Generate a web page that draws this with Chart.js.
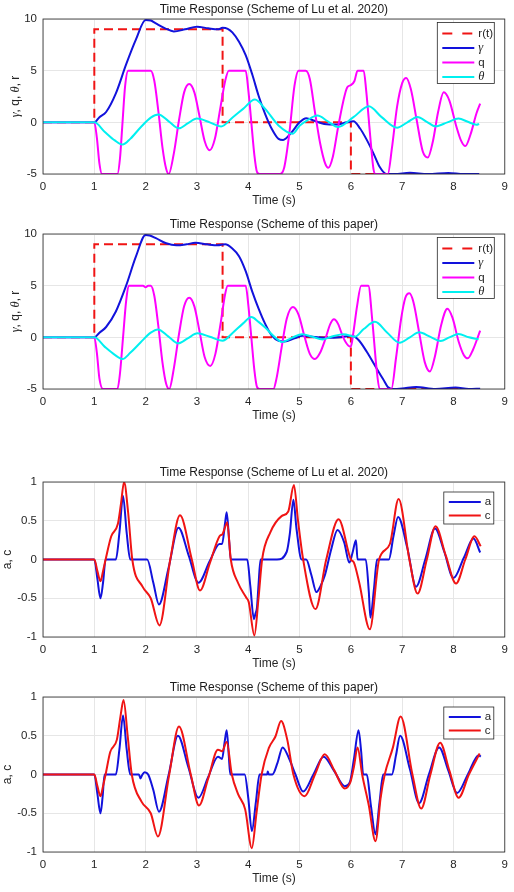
<!DOCTYPE html>
<html>
<head>
<meta charset="utf-8">
<script src="https://cdn.jsdelivr.net/npm/chart.js@4.4.1/dist/chart.umd.min.js"></script>
<style>
  body { margin: 0; background: #fff; }
  #wrap { position: relative; width: 514px; height: 892px; overflow: hidden; background: #fff; }
  canvas { position: absolute; left: 0; }
</style>
</head>
<body>
<div id="wrap">
  <canvas id="c1" width="514" height="211" style="top:-1px"></canvas>
  <canvas id="c2" width="514" height="211" style="top:214px"></canvas>
  <canvas id="c3" width="514" height="211" style="top:462px"></canvas>
  <canvas id="c4" width="514" height="211" style="top:677px"></canvas>
</div>
<script>
// ticks
const xTicks = [0, 1, 2, 3, 4, 5, 6, 7, 8, 9];
const yTicksTop = [-5, 0, 5, 10];
const yTicksBottom = [-1, -0.5, 0, 0.5, 1];

// reference r(t), same in both upper panels
const refTime = [0, 1, 1, 3.5, 3.5, 6, 6, 8.5];
const refValue = [0, 0, 9, 9, 0, 0, -5, -5];

// panel 1 : Lu et al. 2020
const p1GammaT = [0, 1.0, 1.1, 1.23, 1.42, 1.62, 1.81, 2.0, 2.1, 2.19, 2.38, 2.55, 2.77, 3.0, 3.22, 3.41, 3.5, 3.6, 3.69, 3.82,
  3.95, 4.08, 4.2, 4.33, 4.46, 4.59, 4.68, 4.84, 5.0, 5.13, 5.29, 5.48, 5.73, 5.92, 6.05, 6.18, 6.31, 6.44, 6.56, 6.69,
  6.85, 7.15, 7.5, 7.9, 8.2, 8.5];
const p1GammaV = [0, 0, 0.5, 1.0, 2.8, 5.6, 8.0, 9.9, 9.85, 9.6, 9.1, 8.8, 9.0, 9.25, 9.1, 9.0, 9.15, 9.05, 8.7, 7.8,
  6.5, 4.6, 2.6, 0.8, -0.65, -1.6, -1.7, -1.0, 0, 0.4, 0.15, -0.15, -0.2, 0, 0.1, -0.6, -1.7, -3.0, -4.3, -5.0,
  -5.0, -4.88, -5.0, -4.9, -5.0, -5.0];
const p1QT = [0, 1.0, 1.05, 1.1, 1.15, 1.45, 1.5, 1.55, 1.6, 1.66, 2.1, 2.17, 2.25, 2.33, 2.4, 2.45, 2.55, 2.65, 2.75, 2.85,
  2.95, 3.05, 3.15, 3.25, 3.35, 3.45, 3.55, 3.62, 3.95, 4.0, 4.06, 4.12, 4.17, 4.22, 4.62, 4.7, 4.8, 4.9, 4.98, 5.12,
  5.2, 5.3, 5.4, 5.5, 5.56, 5.65, 5.75, 5.85, 5.93, 6.0, 6.07, 6.13, 6.25, 6.3, 6.38, 6.44, 6.48, 6.72, 6.8, 6.9,
  7.0, 7.08, 7.17, 7.28, 7.4, 7.5, 7.6, 7.7, 7.81, 7.92, 8.05, 8.15, 8.23, 8.33, 8.45, 8.52];
const p1QV = [0, 0, -1.5, -4, -5, -5, -3.5, 0, 3.5, 5, 5, 4, 1, -2.5, -4.5, -5, -3, 0.2, 2.9, 3.7,
  2.9, 0.6, -1.8, -2.7, -1.6, 1.2, 4.0, 5, 5, 3.2, 0, -3.2, -4.8, -5, -5, -4.4, -1.1, 3.5, 5, 5,
  4.2, 1.0, -2.0, -4.0, -4.4, -3.3, -0.5, 2.0, 3.4, 3.6, 4.0, 5, 5, 3.0, -1.5, -4.5, -5, -5, -2.5, 1.5,
  3.8, 4.3, 3.2, 0.3, -2.8, -3.4, -1.8, 1.0, 2.9, 2.1, -0.3, -1.8, -2.3, -1.2, 0.9, 1.8];
const p1ThetaT = [0, 1.0, 1.2, 1.4, 1.55, 1.7, 1.9, 2.1, 2.25, 2.45, 2.65, 2.82, 3.0, 3.25, 3.47, 3.7, 3.9, 4.13, 4.33, 4.59,
  4.87, 5.0, 5.15, 5.35, 5.55, 5.75, 6.05, 6.35, 6.6, 6.9, 7.1, 7.3, 7.48, 7.65, 7.88, 8.1, 8.28, 8.45, 8.5];
const p1ThetaV = [0, 0, -0.9, -1.75, -2.15, -1.6, -0.5, 0.45, 0.75, 0.1, -0.58, -0.1, 0.36, 0.0, -0.4, 0.5, 1.3, 2.2, 1.3, -0.3,
  -1.1, -0.33, 0.2, 0.65, 0.1, -0.45, 0.5, 1.55, 0.5, -0.52, 0.0, 0.52, 0.05, -0.39, 0.0, 0.36, 0.05, -0.23, -0.15];

// panel 2 : this paper
const p2GammaT = [0, 1.0, 1.1, 1.23, 1.42, 1.62, 1.81, 2.0, 2.08, 2.2, 2.4, 2.6, 2.8, 2.97, 3.2, 3.4, 3.55, 3.69, 3.82, 3.95,
  4.08, 4.2, 4.33, 4.46, 4.59, 4.71, 4.9, 5.06, 5.22, 5.48, 5.79, 6.02, 6.15, 6.31, 6.5, 6.63, 6.72, 6.82, 7.0, 7.27,
  7.65, 8.04, 8.3, 8.52];
const p2GammaV = [0, 0, 0.45, 1.0, 2.5, 5.0, 7.8, 9.9, 9.85, 9.6, 9.1, 8.9, 9.0, 9.15, 9.0, 8.9, 9.0, 8.6, 7.85, 6.4,
  4.4, 2.8, 1.3, 0.16, -0.33, -0.4, -0.1, 0.16, 0.07, -0.05, 0.0, 0.16, -0.26, -1.4, -3.0, -4.06, -4.8, -5.0, -4.95, -4.8,
  -5.0, -4.85, -5.0, -4.97];
const p2QT = [0, 1.0, 1.05, 1.1, 1.17, 1.45, 1.5, 1.56, 1.62, 1.67, 1.95, 2.0, 2.05, 2.1, 2.17, 2.25, 2.33, 2.4, 2.46, 2.55,
  2.65, 2.75, 2.85, 2.95, 3.05, 3.15, 3.26, 3.36, 3.46, 3.55, 3.6, 3.95, 4.0, 4.06, 4.12, 4.17, 4.22, 4.49, 4.55, 4.65,
  4.75, 4.87, 4.98, 5.1, 5.2, 5.3, 5.4, 5.5, 5.6, 5.67, 5.75, 5.85, 5.95, 6.0, 6.05, 6.12, 6.2, 6.34, 6.42, 6.5,
  6.56, 6.79, 6.88, 6.98, 7.06, 7.14, 7.22, 7.33, 7.44, 7.54, 7.64, 7.76, 7.88, 7.98, 8.1, 8.2, 8.28, 8.38, 8.52];
const p2QV = [0, 0, -1.5, -4, -5, -5, -3.5, 0, 3.5, 5, 5, 4.85, 5, 5, 4, 1, -2.5, -4.5, -5, -3,
  0.3, 3.0, 3.84, 3.0, 0.6, -1.9, -2.77, -1.6, 1.3, 4.2, 5, 5, 3.2, 0, -3.2, -4.8, -5, -5, -4, -1.0,
  1.8, 2.94, 2.2, 0.0, -1.6, -2.1, -1.5, -0.2, 1.3, 1.74, 1.3, 0.0, -0.8, -0.9, 0.5, 3.0, 5, 5, 1.5, -3,
  -5, -5, -2.0, 1.8, 3.8, 4.26, 3.4, 0.5, -2.4, -3.3, -1.8, 1.2, 2.77, 1.9, -0.4, -1.7, -2.03, -1.2, 0.65];
const p2ThetaT = [0, 1.0, 1.2, 1.4, 1.55, 1.7, 1.9, 2.1, 2.24, 2.44, 2.64, 2.82, 3.01, 3.25, 3.5, 3.7, 3.9, 4.06, 4.2, 4.33,
  4.5, 4.66, 4.85, 5.05, 5.25, 5.45, 5.65, 5.86, 6.08, 6.25, 6.47, 6.7, 6.95, 7.15, 7.33, 7.55, 7.75, 7.92, 8.1, 8.3, 8.49];
const p2ThetaV = [0, 0, -0.9, -1.7, -2.1, -1.5, -0.5, 0.45, 0.77, 0.1, -0.58, -0.1, 0.39, 0.05, -0.32, 0.45, 1.35, 1.96, 1.5, 0.95,
  0.1, -0.45, -0.05, 0.3, 0.05, -0.2, 0.1, 0.3, 0.06, 0.8, 1.5, 0.5, -0.52, 0.0, 0.48, 0.05, -0.35, 0.0, 0.32, 0.0, -0.19];

// panel 3 : a, c (Lu et al. 2020)
const p3AT = [0, 1.0, 1.06, 1.12, 1.17, 1.22, 1.42, 1.49, 1.56, 1.63, 1.7, 2.03, 2.15, 2.26, 2.45, 2.64, 2.84, 3.03, 3.25, 3.44,
  3.49, 3.55, 3.58, 3.63, 3.66, 3.98, 4.04, 4.11, 4.14, 4.17, 4.2, 4.24, 4.56, 4.75, 4.81, 4.88, 4.94, 5.04, 5.13, 5.23,
  5.33, 5.41, 5.49, 5.62, 5.74, 5.87, 5.97, 6.03, 6.1, 6.13, 6.29, 6.35, 6.38, 6.45, 6.51, 6.74, 6.83, 6.92, 7.1, 7.27,
  7.45, 7.64, 7.82, 8.0, 8.2, 8.39, 8.52];
const p3AV = [0, 0, -0.25, -0.5, -0.3, 0, 0, 0.35, 0.82, 0.35, 0, 0, -0.3, -0.58, -0.1, 0.41, 0.05, -0.3, -0.02, 0.2,
  0.2, 0.48, 0.61, 0.22, 0, 0, -0.34, -0.77, -0.7, -0.62, -0.33, 0, 0, 0.1, 0.33, 0.77, 0.4, 0, 0, -0.2,
  -0.42, -0.34, -0.21, 0.14, 0.38, 0.22, -0.04, 0.08, 0.25, 0, 0, -0.42, -0.75, -0.38, 0, 0, 0.3, 0.55, 0.15, -0.35,
  0.0, 0.4, 0.1, -0.24, 0.02, 0.27, 0.09];
const p3CT = [0, 1.0, 1.06, 1.12, 1.17, 1.22, 1.33, 1.46, 1.52, 1.58, 1.66, 1.74, 1.94, 2.1, 2.27, 2.48, 2.67, 2.9, 3.06, 3.25,
  3.44, 3.5, 3.55, 3.59, 3.66, 3.8, 3.96, 4.01, 4.12, 4.2, 4.27, 4.43, 4.65, 4.78, 4.89, 4.97, 5.07, 5.31, 5.52, 5.76,
  6.0, 6.06, 6.16, 6.37, 6.55, 6.76, 6.93, 7.14, 7.3, 7.48, 7.65, 7.85, 8.05, 8.23, 8.41, 8.53];
const p3CV = [0, 0, -0.15, -0.28, -0.15, 0, 0.3, 0.46, 0.72, 1.0, 0.6, 0, -0.35, -0.5, -0.85, 0, 0.57, 0, -0.4, -0.05,
  0.3, 0.33, 0.42, 0.48, 0, -0.3, -0.49, -0.55, -0.98, -0.5, 0, 0.35, 0.56, 0.62, 0.96, 0.5, 0, -0.64, 0, 0.52,
  0, -0.04, -0.29, -0.9, 0, 0.2, 0.78, 0, -0.44, 0, 0.43, 0.05, -0.31, 0, 0.3, 0.17];

// panel 4 : a, c (this paper)
const p4AT = [0, 1.0, 1.06, 1.12, 1.16, 1.2, 1.42, 1.49, 1.56, 1.63, 1.7, 1.87, 1.9, 1.93, 1.98, 2.05, 2.15, 2.26, 2.45, 2.63,
  2.83, 3.03, 3.22, 3.41, 3.49, 3.54, 3.58, 3.62, 3.65, 3.93, 4.0, 4.07, 4.15, 4.22, 4.37, 4.38, 4.4, 4.47, 4.57, 4.67,
  4.8, 4.92, 5.07, 5.27, 5.47, 5.67, 5.88, 5.98, 6.06, 6.15, 6.2, 6.24, 6.31, 6.39, 6.48, 6.56, 6.63, 6.8, 6.88, 6.96,
  7.15, 7.33, 7.52, 7.72, 7.9, 8.07, 8.28, 8.49, 8.53];
const p4AV = [0, 0, -0.25, -0.5, -0.3, 0, 0, 0.33, 0.76, 0.33, 0, 0, -0.05, -0.01, 0.03, 0, -0.2, -0.48, 0.0, 0.5,
  0.1, -0.3, -0.03, 0.23, 0.2, 0.42, 0.57, 0.25, 0, 0, -0.3, -0.73, -0.35, 0, 0, 0.04, 0, 0, 0.15, 0.35,
  0.2, 0, -0.22, 0.0, 0.23, 0.05, -0.15, -0.1, 0.2, 0.57, 0.3, 0, 0, -0.4, -0.77, -0.35, 0, 0, 0.25, 0.5,
  0.07, -0.37, 0.0, 0.35, 0.05, -0.24, 0.0, 0.25, 0.23];
const p4CT = [0, 1.0, 1.06, 1.12, 1.17, 1.22, 1.31, 1.44, 1.51, 1.57, 1.65, 1.73, 1.92, 2.1, 2.24, 2.46, 2.65, 2.88, 3.04, 3.22,
  3.41, 3.49, 3.58, 3.68, 3.8, 3.94, 4.07, 4.16, 4.26, 4.4, 4.53, 4.64, 4.76, 4.88, 5.1, 5.3, 5.49, 5.68, 5.88, 5.99,
  6.06, 6.13, 6.22, 6.35, 6.48, 6.58, 6.66, 6.82, 6.97, 7.2, 7.37, 7.55, 7.74, 7.92, 8.1, 8.3, 8.51];
const p4CV = [0, 0, -0.15, -0.28, -0.15, 0, 0.29, 0.45, 0.75, 0.96, 0.5, 0, -0.35, -0.5, -0.8, 0, 0.62, 0, -0.4, -0.05,
  0.32, 0.3, 0.42, 0, -0.25, -0.45, -0.95, -0.5, 0, 0.34, 0.49, 0.69, 0.45, 0, -0.28, 0.0, 0.26, 0.05, -0.18, -0.1,
  0.1, 0.35, 0, -0.4, -0.86, -0.3, 0, 0.35, 0.75, 0, -0.44, 0, 0.41, 0.05, -0.3, 0, 0.27];

const RED = '#f01414', BLUE = '#1212dc', MAGENTA = '#ff00ff', CYAN = '#00f0f0';
const TEXT = '#262626';
const SANS = '"Liberation Sans", Arial, sans-serif';
const GREEK = 'italic 12.5px "Liberation Serif", "DejaVu Serif", serif';

Chart.defaults.font.family = SANS;
Chart.defaults.color = TEXT;

function pts(t, v) {
  return t.map((x, i) => ({ x: x, y: v[i] }));
}

function line(label, t, v, color, order, extra) {
  return Object.assign({
    label: label,
    data: pts(t, v),
    borderColor: color,
    backgroundColor: color,
    borderWidth: 2,
    pointRadius: 0,
    fill: false,
    cubicInterpolationMode: 'monotone',
    order: order
  }, extra || {});
}

// box round the axes
const framePlugin = {
  id: 'frame',
  afterDatasetsDraw(chart) {
    const a = chart.chartArea, ctx = chart.ctx;
    ctx.save();
    ctx.strokeStyle = TEXT;
    ctx.lineWidth = 0.8;
    ctx.strokeRect(a.left, a.top, a.right - a.left, a.bottom - a.top);
    ctx.restore();
  }
};

// title centred over the axes, like matlab
const axesTitle = {
  id: 'axesTitle',
  afterDraw(chart, args, opts) {
    const a = chart.chartArea, ctx = chart.ctx;
    ctx.save();
    ctx.font = '12px ' + SANS;
    ctx.fillStyle = '#1a1a1a';
    ctx.textAlign = 'center';
    ctx.textBaseline = 'middle';
    ctx.fillText(opts.text, (a.left + a.right) / 2, a.top - 9.5);
    ctx.restore();
  }
};

// y label with italic greek letters
const yLabel = {
  id: 'yLabel',
  afterDraw(chart, args, opts) {
    const a = chart.chartArea, ctx = chart.ctx;
    const parts = opts.parts;
    const widths = [];
    let total = 0;
    ctx.save();
    for (let i = 0; i < parts.length; i++) {
      ctx.font = parts[i].italic ? GREEK : '12px ' + SANS;
      widths.push(ctx.measureText(parts[i].text).width);
      total += widths[i];
    }
    ctx.translate(opts.x, (a.top + a.bottom) / 2);
    ctx.rotate(-Math.PI / 2);
    ctx.fillStyle = TEXT;
    ctx.textBaseline = 'middle';
    ctx.textAlign = 'left';
    let x = -total / 2;
    for (let i = 0; i < parts.length; i++) {
      ctx.font = parts[i].italic ? GREEK : '12px ' + SANS;
      ctx.fillText(parts[i].text, x, 0);
      x += widths[i];
    }
    ctx.restore();
  }
};

// legend box inside the axes, top right
const insetLegend = {
  id: 'insetLegend',
  afterDraw(chart, args, opts) {
    const a = chart.chartArea, ctx = chart.ctx;
    const left = a.right - opts.right - opts.width;
    const top = a.top + opts.top;
    ctx.save();
    ctx.fillStyle = '#fff';
    ctx.fillRect(left, top, opts.width, opts.height);
    ctx.strokeStyle = TEXT;
    ctx.lineWidth = 0.8;
    ctx.strokeRect(left, top, opts.width, opts.height);
    chart.data.datasets.forEach(function(ds, i) {
      const y = top + opts.first + i * opts.step;
      ctx.strokeStyle = ds.borderColor;
      ctx.lineWidth = ds.borderWidth;
      ctx.setLineDash(ds.borderDash ? [10, 10] : []);
      ctx.beginPath();
      ctx.moveTo(left + 5, y);
      ctx.lineTo(left + 37, y);
      ctx.stroke();
      ctx.setLineDash([]);
      ctx.fillStyle = TEXT;
      ctx.font = ds.italicLabel ? GREEK : '11.5px ' + SANS;
      ctx.textAlign = 'left';
      ctx.textBaseline = 'middle';
      ctx.fillText(ds.label, left + 41, y);
    });
    ctx.restore();
  }
};

function makeChart(id, datasets, yTicks, titleText, labelParts, labelX, legendBox) {
  return new Chart(document.getElementById(id), {
    type: 'line',
    data: { datasets: datasets },
    options: {
      responsive: false,
      animation: false,
      events: [],
      layout: { padding: { top: 20, right: 3, left: 0, bottom: 0 } },
      plugins: {
        legend: { display: false },
        tooltip: { enabled: false },
        axesTitle: { text: titleText },
        yLabel: { parts: labelParts, x: labelX },
        insetLegend: legendBox
      },
      scales: {
        x: {
          type: 'linear',
          min: xTicks[0],
          max: xTicks[xTicks.length - 1],
          afterBuildTicks: function(s) { s.ticks = xTicks.map(v => ({ value: v })); },
          afterFit: function(s) { s.height = 36; },
          grid: { color: '#e6e6e6', drawTicks: false },
          border: { display: false },
          ticks: { padding: 6, font: { size: 11.5 }, color: TEXT, maxRotation: 0, callback: v => String(v) },
          title: { display: true, text: 'Time (s)', font: { size: 12 }, color: TEXT, padding: { top: 0, bottom: 2 } }
        },
        y: {
          type: 'linear',
          min: yTicks[0],
          max: yTicks[yTicks.length - 1],
          afterBuildTicks: function(s) { s.ticks = yTicks.map(v => ({ value: v })); },
          afterFit: function(s) { s.width = 43; },
          grid: { color: '#e6e6e6', drawTicks: false },
          border: { display: false },
          ticks: { padding: 6, font: { size: 11.5 }, color: TEXT, callback: v => String(v) }
        }
      }
    },
    plugins: [framePlugin, axesTitle, yLabel, insetLegend]
  });
}

const upperLabel = [{ text: 'γ', italic: true }, { text: ', q, ' }, { text: 'θ', italic: true }, { text: ', r' }];
const lowerLabel = [{ text: 'a, c' }];
const upperLegend = { right: 10.5, top: 3.5, width: 57, height: 61, first: 11, step: 14.5 };
const lowerLegend = { right: 11, top: 10, width: 50, height: 32, first: 10, step: 13.5 };

function upperSets(gT, gV, qT, qV, thT, thV) {
  return [
    line('r(t)', refTime, refValue, RED, 4, { borderDash: [9, 5], tension: 0, cubicInterpolationMode: 'default' }),
    line('γ', gT, gV, BLUE, 3, { italicLabel: true }),
    line('q', qT, qV, MAGENTA, 2),
    line('θ', thT, thV, CYAN, 1, { italicLabel: true })
  ];
}

makeChart('c1', upperSets(p1GammaT, p1GammaV, p1QT, p1QV, p1ThetaT, p1ThetaV), yTicksTop,
  'Time Response (Scheme of Lu et al. 2020)', upperLabel, 16, upperLegend);
makeChart('c2', upperSets(p2GammaT, p2GammaV, p2QT, p2QV, p2ThetaT, p2ThetaV), yTicksTop,
  'Time Response (Scheme of this paper)', upperLabel, 16, upperLegend);
makeChart('c3', [line('a', p3AT, p3AV, BLUE, 2), line('c', p3CT, p3CV, RED, 1)], yTicksBottom,
  'Time Response (Scheme of Lu et al. 2020)', lowerLabel, 8, lowerLegend);
makeChart('c4', [line('a', p4AT, p4AV, BLUE, 2), line('c', p4CT, p4CV, RED, 1)], yTicksBottom,
  'Time Response (Scheme of this paper)', lowerLabel, 8, lowerLegend);
</script>
</body>
</html>
